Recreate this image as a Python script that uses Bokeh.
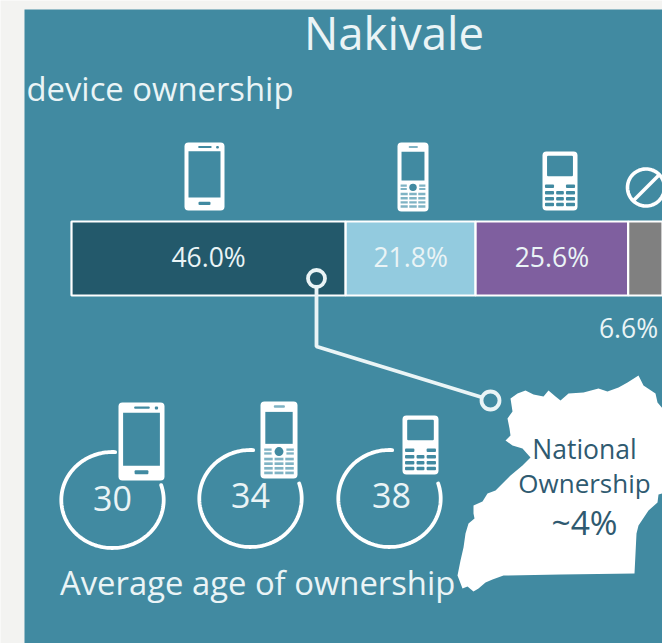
from bokeh.core.properties import value
from bokeh.embed import file_html
from bokeh.models import Range1d
from bokeh.plotting import figure
from bokeh.resources import INLINE
import numpy as np

# Device ownership shares, in percent
segments = ["Smartphone", "Camera phone", "Basic phone", "None"]
shares = [46.0, 21.8, 25.6, 6.6]
segment_colors = ["#23596b", "#93cbdf", "#7f5f9f", "#808080"]

# Average age of ownership by device
ages = [30, 34, 38]

title = "Nakivale"
subtitle = "device ownership"
footer = "Average age of ownership"
national = ["National", "Ownership", "~4%"]

PAGE = "#f3f3f1"
TEAL = "#418aa1"
KEY = "#7fb3c4"
WHITE = "#ffffff"
SOFT = "#eaf4f6"
INK = "#2f5a70"
FONT = value("Open Sans")

W, H = 662, 643
p = figure(width=W, height=H, output_backend="svg", toolbar_location=None,
           x_range=Range1d(0, W), y_range=Range1d(H, 0), min_border=0)
p.axis.visible = False
p.grid.visible = False
p.outline_line_color = None
p.background_fill_color = PAGE
p.border_fill_color = PAGE

# The share axis: 0% sits at the bar's left end, 5.96 px per percent
BAR_LEFT, PX_PER_PCT = 71, 5.96
p.extra_x_ranges["share"] = Range1d(-BAR_LEFT / PX_PER_PCT, (W - BAR_LEFT) / PX_PER_PCT)

p.quad(left=24, right=W, top=9, bottom=H, fill_color=TEAL, line_color=None)


def box(x0, y0, x1, y1, color=WHITE, radius=0):
    p.quad(left=x0, right=x1, top=y0, bottom=y1, fill_color=color, line_color=None,
           border_radius=radius)


def label(x, y, text, size, color=SOFT, align="center"):
    p.text(x=[x], y=[y], text=[text], text_font=FONT, text_font_size=f"{size}px",
           text_color=color, text_align=align, text_baseline="middle")


def smartphone(x0, y0, x1, y1):
    w, h = x1 - x0, y1 - y0
    box(x0, y0, x1, y1, radius=4)
    box(x0 + .1 * w, y0 + .13 * h, x1 - .1 * w, y0 + .81 * h, TEAL)
    box(x0 + .34 * w, y0 + .05 * h, x0 + .68 * w, y0 + .08 * h, TEAL, 1)
    box(x0 + .79 * w, y0 + .05 * h, x0 + .86 * w, y0 + .09 * h, TEAL, 1)
    box(x0 + .35 * w, y0 + .87 * h, x0 + .65 * w, y0 + .92 * h, TEAL, 1)


def camera_phone(x0, y0, x1, y1):
    w, h = x1 - x0, y1 - y0
    box(x0, y0, x1, y1, radius=4)
    box(x0 + .13 * w, y0 + .135 * h, x1 - .13 * w, y0 + .55 * h, TEAL)
    box(x0 + .36 * w, y0 + .05 * h, x0 + .66 * w, y0 + .08 * h, KEY, 1)
    for r in (.61, .66):
        for c0, c1 in ((.1, .3), (.7, .9)):
            box(x0 + c0 * w, y0 + r * h, x0 + c1 * w, y0 + (r + .03) * h, KEY)
    for r in (.73, .79, .85, .91):
        for c0, c1 in ((.1, .33), (.38, .62), (.67, .9)):
            box(x0 + c0 * w, y0 + r * h, x0 + c1 * w, y0 + (r + .035) * h, KEY)
    p.scatter(x=[x0 + .5 * w], y=[y0 + .65 * h], size=.24 * w, marker="circle",
              fill_color=TEAL, line_color=None)


def basic_phone(x0, y0, x1, y1):
    w, h = x1 - x0, y1 - y0
    box(x0, y0, x1, y1, radius=4)
    box(x0 + .13 * w, y0 + .07 * h, x1 - .13 * w, y0 + .42 * h, TEAL, 1)
    for r in (.56, .67, .77, .87):
        for c0, c1 in ((.07, .33), (.39, .61), (.67, .93)):
            if r == .56 and c0 == .39:
                continue
            box(x0 + c0 * w, y0 + r * h, x0 + c1 * w, y0 + (r + .06) * h, TEAL, 1)


def ring(cx, cy, rx, ry, gap_from, gap_to):
    # Angles in degrees, clockwise from twelve o'clock on screen
    a = np.radians(np.linspace(gap_to, gap_from + 360, 160))
    p.line(cx + rx * np.sin(a), cy - ry * np.cos(a), line_color=WHITE, line_width=3.8,
           line_cap="round")


# Stacked ownership bar
lefts = np.cumsum([0] + shares[:-1])
rights = lefts + np.array(shares)
p.hbar(y=258, left=lefts, right=rights, height=74, fill_color=segment_colors,
       line_color=WHITE, line_width=2.2, x_range_name="share")
for left, share in zip(lefts[:3], shares[:3]):
    p.text(x=[left + share / 2], y=[256.5], text=[f"{share:.1f}%"], x_range_name="share",
           text_font=FONT, text_font_size="26.5px", text_color=SOFT,
           text_align="center", text_baseline="middle")
label(628, 327.5, f"{shares[3]:.1f}%", 26.5)

# Device icons above the bar
smartphone(184, 142, 224, 210)
camera_phone(397, 142, 428, 211)
basic_phone(542, 151, 577, 210)
a = np.radians(np.linspace(0, 360, 90))
p.line(645.5 + 18.5 * np.cos(a), 187 + 18.5 * np.sin(a), line_color=WHITE, line_width=3.6)
p.line([633, 659], [200, 174], line_color=WHITE, line_width=3.6)

# Uganda outline, with the label on top
outline_x = [510, 517, 525, 533, 543, 548, 555, 560, 568, 583, 598, 607, 618, 627, 638, 643, 655,
             657, 668, 668, 658, 657, 648, 638, 636, 634, 560, 503, 492, 485, 478, 473, 467, 462,
             457, 460, 463, 465, 468, 474, 473, 473, 482, 487, 495, 505, 510, 522, 530, 522, 512,
             505, 510, 509, 507, 512]
outline_y = [398, 393, 390, 394, 396, 390, 396, 400, 393, 392, 388, 391, 387, 382, 375, 385, 393,
             402, 415, 491, 494, 502, 510, 525, 533, 573, 574, 575, 579, 582, 588, 591, 586, 588,
             575, 560, 547, 533, 523, 518, 513, 505, 501, 493, 490, 480, 475, 465, 457, 448, 445,
             440, 435, 428, 418, 411]
p.patch(x=outline_x, y=outline_y, fill_color=WHITE, line_color=None)
label(584, 448.5, national[0], 26.5, INK)
label(584, 482.5, national[1], 26, INK)
label(584, 521.5, national[2], 33.5, INK)

# Connector from the smartphone segment to the national figure
p.line([316, 316, 482], [286, 346, 397], line_color=SOFT, line_width=3.8)
p.circle(x=[316, 490], y=[278, 400], radius=[8.5, 9], fill_color=[segment_colors[0], TEAL],
         line_color=SOFT, line_width=3.8)

# Age rings
ring(112, 499.5, 51.2, 48, 3, 72)
ring(250, 498, 51.2, 48.5, 3, 72)
ring(389, 498, 51.2, 48.5, 3, 72)
smartphone(118, 402, 164, 480)
camera_phone(260, 401, 297, 478)
basic_phone(402, 415, 438, 474)
for x, y, age in zip((112, 250, 391), (498, 495, 495), ages):
    label(x, y, str(age), 34)

label(303.5, 31.5, title, 45.5, SOFT, "left")
label(26, 88, subtitle, 32.8, SOFT, "left")
label(59.5, 582, footer, 32.8, SOFT, "left")

open("out.html", "w").write(file_html(p, INLINE))
